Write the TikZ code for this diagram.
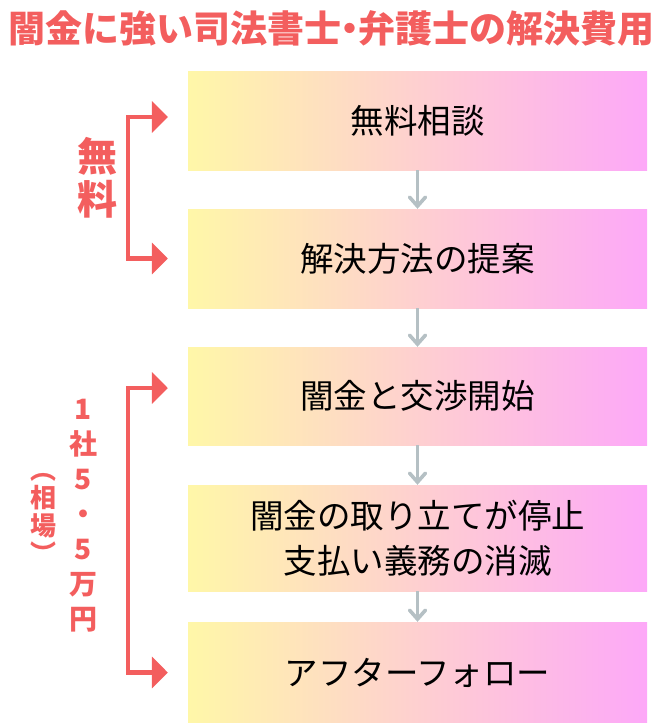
\documentclass[tikz,border=0pt]{standalone}
\usepackage{fontspec}
\setmainfont{Noto Sans CJK JP}
\usepackage{tikz}
\usetikzlibrary{arrows.meta}
\definecolor{accent}{HTML}{F35E5E}
\definecolor{flowgray}{HTML}{B5C0C4}
\definecolor{boxleft}{HTML}{FFF7A8}
\definecolor{boxmid}{HTML}{FDD3CB}
\definecolor{boxright}{HTML}{FDA8F8}

\begin{document}
\begin{tikzpicture}[
    x=1pt, y=-1pt,
    stepbox/.style={rectangle, minimum width=459pt, minimum height=99pt, inner sep=0pt,
        left color=boxleft, middle color=boxmid, right color=boxright,
        align=center, font=\fontsize{33.5}{45}\selectfont},
    flow/.style={-{Straight Barb[length=9pt,width=16pt,line cap=round]}, line width=3.6pt, flowgray},
    bracket/.style={{Triangle[length=16pt,width=31pt]}-{Triangle[length=16pt,width=31pt]}, line width=4.5pt, accent, line join=miter},
    sidelabel/.style={accent, align=center, font=\bfseries\fontsize{27}{35}\selectfont}
]
    \useasboundingbox (0,0) rectangle (671,723);

    \node[accent, font=\bfseries\fontsize{37}{40}\selectfont] (title) at (331.5,28) {闇金に強い司法書士\kern-.27em・\kern-.27em弁護士の解決費用};

    \node[stepbox] (consult) at (417.5,120.5) {無料相談};
    \node[stepbox] (propose) at (417.5,258.5) {解決方法の提案};
    \node[stepbox, minimum height=98pt] (negotiate) at (417.5,396) {闇金と交渉開始};
    \node[stepbox, minimum height=106pt] (stop) at (417.5,538) {闇金の取り立てが停止\\支払い義務の消滅};
    \node[stepbox, minimum height=101pt] (follow) at (417.5,672.5) {アフターフォロー};

    \draw[flow] (consult) -- (propose);
    \draw[flow] (propose) -- (negotiate);
    \draw[flow] (negotiate) -- (stop);
    \draw[flow] (stop) -- (follow);

    % brackets on the left
    \draw[bracket] ([xshift=-20pt,yshift=3.5pt]consult.west) -- ++(-40pt,0) |- ([xshift=-20pt]propose.west);
    \draw[bracket] ([xshift=-20pt,yshift=8pt]negotiate.west) -- ++(-40pt,0) |- ([xshift=-20pt]follow.west);

    \node[sidelabel, font=\bfseries\fontsize{40}{43}\selectfont] (free) at (97,178) {無\\料};
    \node[sidelabel, font=\bfseries\fontsize{28}{35}\selectfont] (price) at (83,516) {1\\社\\5\\・\\5\\万\\円};
    \node[sidelabel, font=\bfseries\fontsize{26}{28}\selectfont] (market) at (43,518) {︵\\相\\場\\︶};
\end{tikzpicture}
\end{document}
